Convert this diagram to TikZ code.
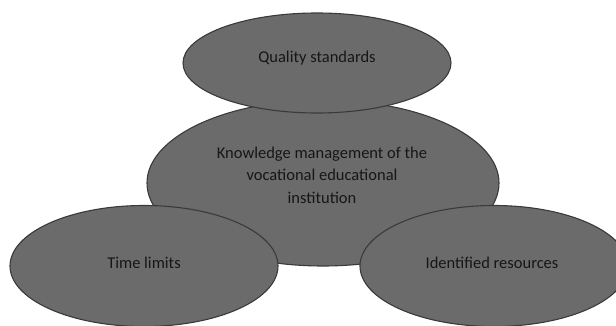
\documentclass[tikz,border=0pt]{standalone}
\usepackage{fontspec}
\setmainfont{Carlito}
\usetikzlibrary{shapes.geometric}
\definecolor{blobfill}{RGB}{107,107,107}
\definecolor{blobline}{RGB}{58,58,58}
\definecolor{blobtext}{RGB}{22,22,22}
\begin{document}
\begin{tikzpicture}[x=1pt,y=-1pt,
  blob/.style={ellipse, draw=blobline, fill=blobfill, line width=1.1pt, inner sep=0pt},
  caption/.style={text=blobtext, font=\fontsize{16.5}{22.5}\selectfont, align=center, inner sep=0pt}]
  \useasboundingbox (0,0) rectangle (616,326);
  % central ellipse and its three satellites
  \node[blob, minimum width=352pt, minimum height=166pt] (core) at (323,183) {};
  \node[blob, minimum width=268pt, minimum height=100pt] (quality) at (317,63) {};
  \node[blob, minimum width=268pt, minimum height=121pt] (time) at (144,266) {};
  \node[blob, minimum width=268pt, minimum height=121pt] (resources) at (494,266) {};
  % labels
  \node[caption] (coretext) at (322,175) {Knowledge management of the\\vocational educational\\institution};
  \node[caption] (qualitytext) at (317,58) {Quality standards};
  \node[caption] (timetext) at (144,263) {Time limits};
  \node[caption] (restext) at (492,263) {Identified resources};
\end{tikzpicture}
\end{document}
